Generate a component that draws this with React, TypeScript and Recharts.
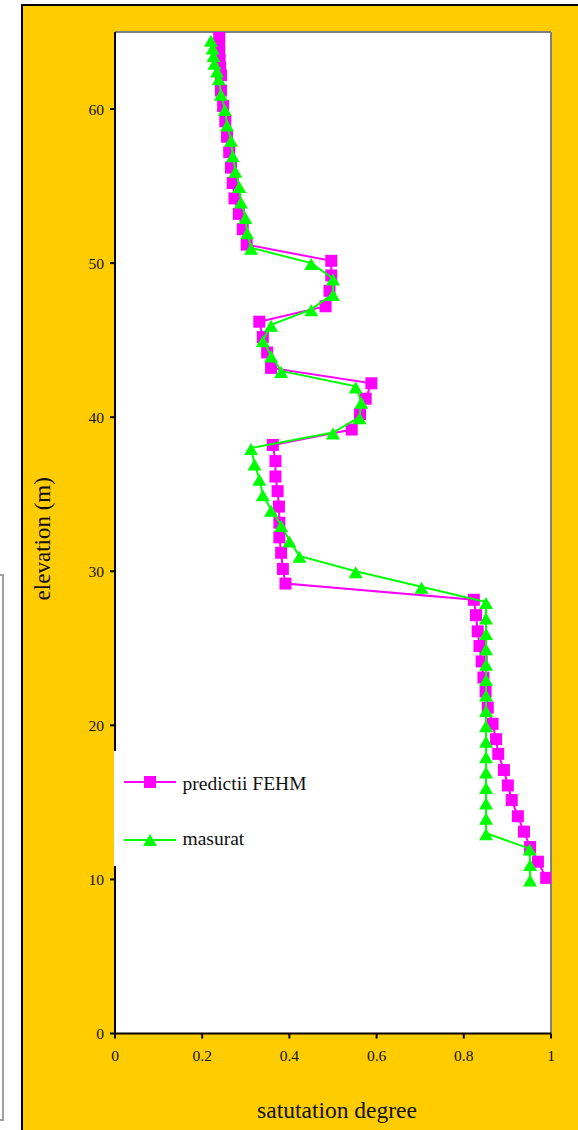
import React from 'react';
import { ScatterChart, Scatter, XAxis, YAxis, CartesianGrid, ReferenceLine, Label } from 'recharts';

const fehmElevation = [64.7, 64.2, 63.7, 63.2, 62.7, 62.2, 61.2, 60.2, 59.2, 58.2, 57.2, 56.2, 55.2, 54.2, 53.2, 52.2, 51.2,
  50.15, 49.2, 48.2, 47.2, 46.2, 45.2, 44.2, 43.2, 42.2, 41.2, 40.2, 39.2, 38.2, 37.15, 36.15, 35.2, 34.2, 33.15, 32.2, 31.2,
  30.15, 29.2, 28.15, 27.15, 26.1, 25.15, 24.15, 23.1, 22.2, 21.15, 20.1, 19.1, 18.15, 17.1, 16.1, 15.15, 14.1, 13.1, 12.1, 11.15, 10.1];
const fehmSaturation = [0.239, 0.239, 0.239, 0.24, 0.241, 0.243, 0.243, 0.248, 0.253, 0.257, 0.262, 0.266, 0.27, 0.274, 0.284, 0.293, 0.302,
  0.496, 0.496, 0.492, 0.483, 0.331, 0.339, 0.349, 0.358, 0.588, 0.575, 0.562, 0.543, 0.362, 0.368, 0.368, 0.373, 0.376, 0.377, 0.377, 0.381,
  0.385, 0.391, 0.823, 0.828, 0.832, 0.836, 0.841, 0.845, 0.85, 0.855, 0.866, 0.874, 0.879, 0.892, 0.901, 0.91, 0.924, 0.938, 0.952, 0.97, 0.989];

const measElevation = [64.5, 64, 63.5, 63, 62.5, 62, 61, 60, 59, 58, 57, 56, 55, 54, 53, 52, 51,
  50, 49, 48, 47, 46, 45, 44, 43, 42, 41, 40, 39, 38, 37, 36, 35, 34, 33, 32, 31, 30, 29,
  28, 27, 26, 25, 24, 23, 22, 21, 20, 19, 18, 17, 16, 15, 14, 13, 12, 11, 10];
const measSaturation = [0.22, 0.224, 0.226, 0.228, 0.234, 0.238, 0.243, 0.252, 0.257, 0.266, 0.27, 0.276, 0.285, 0.289, 0.299, 0.303, 0.312,
  0.45, 0.5, 0.5, 0.45, 0.358, 0.339, 0.358, 0.381, 0.552, 0.565, 0.561, 0.5, 0.312, 0.32, 0.331, 0.339, 0.358, 0.381, 0.4, 0.423, 0.552, 0.703,
  0.851, 0.851, 0.851, 0.851, 0.851, 0.851, 0.851, 0.851, 0.851, 0.851, 0.851, 0.851, 0.851, 0.851, 0.851, 0.851, 0.951, 0.952, 0.952];

const seriesNames = ['predictii FEHM', 'masurat'];
const xTicks = [0, 0.2, 0.4, 0.6, 0.8, 1];
const yTicks = [0, 10, 20, 30, 40, 50, 60];
const xTitle = 'satutation degree';
const yTitle = 'elevation (m)';

const MAGENTA = '#FF00FF';
const GREEN = '#00FF00';
const FONT = '"Liberation Serif", "Times New Roman", serif';

const fehmData = fehmElevation.map((e, i) => ({ e, s: fehmSaturation[i] }));
const measData = measElevation.map((e, i) => ({ e, s: measSaturation[i] }));

const Square = (props: any) => {
  const { cx, cy } = props;
  if (cx == null || cy == null) return null;
  return <rect x={cx - 6} y={cy - 6} width={12} height={12} fill={MAGENTA} />;
};

const Triangle = (props: any) => {
  const { cx, cy } = props;
  if (cx == null || cy == null) return null;
  return <polygon points={`${cx},${cy - 5} ${cx + 7},${cy + 7} ${cx - 7},${cy + 7}`} fill={GREEN} />;
};

const tickStyle = { fill: '#111', fontSize: 15.5, fontFamily: FONT };

export default function App() {
  return (
    <div style={{ position: 'absolute', left: 0, top: 0, width: 578, height: 1130, overflow: 'hidden', background: '#fff' }}>
      <div style={{ position: 'absolute', left: -10, top: 574, width: 14, height: 547, border: '2px solid #a0a0a0', boxSizing: 'border-box' }} />
      <div style={{ position: 'absolute', left: 21, top: 4, width: 640, height: 1200, background: '#FFCC00', border: '2px solid #000' }} />
      <div style={{ position: 'absolute', left: 0, top: 0 }}>
        <ScatterChart width={578} height={1130} margin={{ top: 32, right: 27, bottom: 36.5, left: 0 }}>
          <CartesianGrid fill="#fff" horizontal={false} vertical={false} stroke="none" />
          <ReferenceLine y={65} stroke="#808080" strokeWidth={2} />
          <ReferenceLine x={1} stroke="#808080" strokeWidth={2} />
          <XAxis
            type="number"
            dataKey="s"
            domain={[0, 1]}
            ticks={xTicks}
            height={60}
            tickSize={5}
            tickMargin={11}
            axisLine={{ stroke: '#000', strokeWidth: 2 }}
            tickLine={{ stroke: '#000', strokeWidth: 2 }}
            tick={tickStyle}
            allowDataOverflow
          >
            <Label
              content={(p: any) => {
                const vb = p.viewBox || { x: 115, y: 1033.5, width: 436, height: 60 };
                const cx = vb.x + vb.width / 2 + 4;
                return (
                  <text x={cx} y={1118} textAnchor="middle" fill="#111" fontSize={23.5} fontFamily={FONT}>
                    {xTitle}
                  </text>
                );
              }}
            />
          </XAxis>
          <YAxis
            type="number"
            dataKey="e"
            domain={[0, 65]}
            ticks={yTicks}
            width={115}
            tickSize={5}
            tickMargin={6}
            axisLine={{ stroke: '#000', strokeWidth: 2 }}
            tickLine={{ stroke: '#000', strokeWidth: 2 }}
            tick={tickStyle}
            allowDataOverflow
          >
            <Label
              content={(p: any) => {
                const vb = p.viewBox || { x: 0, y: 32, width: 115, height: 1001.5 };
                const cx = vb.x + 42;
                const cy = vb.y + vb.height / 2 + 6;
                return (
                  <text
                    x={cx}
                    y={cy}
                    transform={`rotate(-90 ${cx} ${cy})`}
                    textAnchor="middle"
                    dominantBaseline="central"
                    fill="#111"
                    fontSize={23}
                    fontFamily={FONT}
                  >
                    {yTitle}
                  </text>
                );
              }}
            />
          </YAxis>
          <Scatter
            name={seriesNames[0]}
            data={fehmData}
            fill={MAGENTA}
            line={{ stroke: MAGENTA, strokeWidth: 2 }}
            lineJointType="linear"
            shape={Square}
            isAnimationActive={false}
          />
          <Scatter
            name={seriesNames[1]}
            data={measData}
            fill={GREEN}
            line={{ stroke: GREEN, strokeWidth: 2 }}
            lineJointType="linear"
            shape={Triangle}
            isAnimationActive={false}
          />
        </ScatterChart>
      </div>
      <div style={{ position: 'absolute', left: 114, top: 751, width: 206, height: 115, background: '#fff' }}>
        <svg width={206} height={115} style={{ display: 'block' }}>
          <line x1={10} y1={31} x2={62} y2={31} stroke={MAGENTA} strokeWidth={2} />
          <rect x={30} y={25} width={12} height={12} fill={MAGENTA} />
          <text x={68.5} y={38.5} fontSize={19.5} fontFamily={FONT} fill="#111">{seriesNames[0]}</text>
          <line x1={10} y1={89} x2={62} y2={89} stroke={GREEN} strokeWidth={2} />
          <polygon points="36,83 43,95 29,95" fill={GREEN} />
          <text x={68.5} y={94} fontSize={19.5} fontFamily={FONT} fill="#111">{seriesNames[1]}</text>
        </svg>
      </div>
    </div>
  );
}
